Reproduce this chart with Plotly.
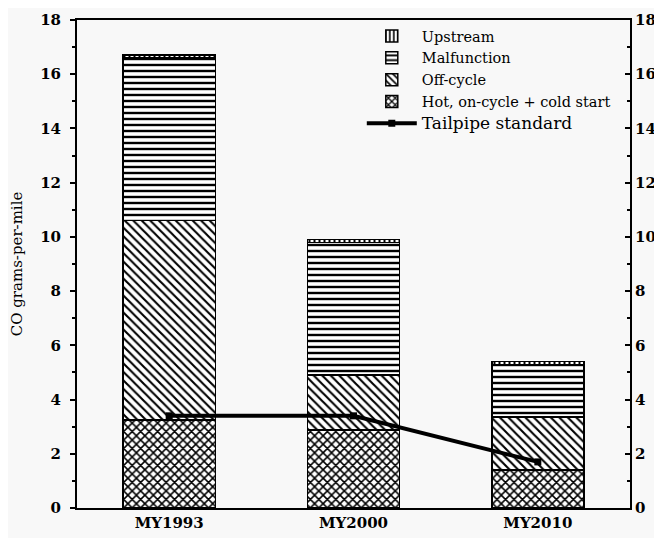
import plotly.graph_objects as go

categories = ["MY1993", "MY2000", "MY2010"]
hot_on_cycle = [3.25, 2.88, 1.40]
off_cycle = [7.35, 2.02, 1.96]
malfunction = [6.0, 4.9, 1.94]
upstream = [0.1, 0.1, 0.1]
tailpipe_std = [3.4, 3.4, 1.7]
yticks = [0, 2, 4, 6, 8, 10, 12, 14, 16, 18]

SERIF = "DejaVu Serif"
BG = "#f8f8f8"

fig = go.Figure()

def bar(name, vals, shape, rank, size=6, sol=0.35):
    fig.add_trace(go.Bar(
        x=categories, y=vals, name=name, legendrank=rank,
        marker=dict(color="white",
                    line=dict(color="black", width=1.5),
                    pattern=dict(shape=shape, fgcolor="black", bgcolor="white",
                                 size=size, solidity=sol, fillmode="replace")),
    ))

bar("Hot, on-cycle + cold start", hot_on_cycle, "x", 4, size=6, sol=0.45)
bar("Off-cycle", off_cycle, "\\", 3, size=6, sol=0.35)
bar("Malfunction", malfunction, "-", 2, size=6, sol=0.4)
bar("Upstream", upstream, "|", 1, size=5, sol=0.4)

fig.add_trace(go.Scatter(
    x=categories, y=tailpipe_std, mode="lines+markers",
    name="<span style='font-size:17px'>Tailpipe standard</span>",
    legendrank=5,
    line=dict(color="black", width=4),
    marker=dict(symbol="square", size=7, color="black"),
))
fig.add_trace(go.Scatter(x=categories, y=[None]*3, yaxis="y2", showlegend=False, hoverinfo="skip"))

axis_font = dict(family=SERIF, size=15, color="black", weight="bold")
fig.update_layout(
    width=654, height=530,
    margin=dict(l=69, r=32, t=12, b=30, autoexpand=False),
    paper_bgcolor=BG, plot_bgcolor=BG,
    barmode="stack", bargap=0.5,
    showlegend=True,
    legend=dict(x=0.515, y=1.0, xanchor="left", yanchor="top",
                traceorder="normal", bgcolor="rgba(0,0,0,0)",
                font=dict(family=SERIF, size=14.5, color="black"),
                tracegroupgap=0, itemwidth=50),
    xaxis=dict(range=[-0.5, 2.5], showline=True, linecolor="black", linewidth=2,
               mirror=True, ticks="", tickfont=axis_font, showgrid=False,
               automargin=False),
    yaxis=dict(range=[0, 18], tickvals=yticks, showline=True, linecolor="black",
               linewidth=2, ticks="outside", ticklen=5, tickwidth=1.5,
               tickcolor="black", showgrid=False, zeroline=False,
               ticklabelstandoff=6, automargin=False,
               minor=dict(dtick=1, ticks="outside", ticklen=3, tickcolor="black"),
               tickfont=axis_font,
               title=dict(text="CO grams-per-mile",
                          font=dict(family=SERIF, size=15, color="black"),
                          standoff=24)),
    yaxis2=dict(range=[0, 18], tickvals=yticks, overlaying="y", side="right",
                showline=True, linecolor="black", linewidth=2, ticks="inside",
                ticklen=5, tickwidth=1.5, tickcolor="black", showgrid=False,
                zeroline=False, automargin=False,
                minor=dict(dtick=1, ticks="inside", ticklen=3, tickcolor="black"),
                tickfont=axis_font),
)

fig.write_html("out.html")
